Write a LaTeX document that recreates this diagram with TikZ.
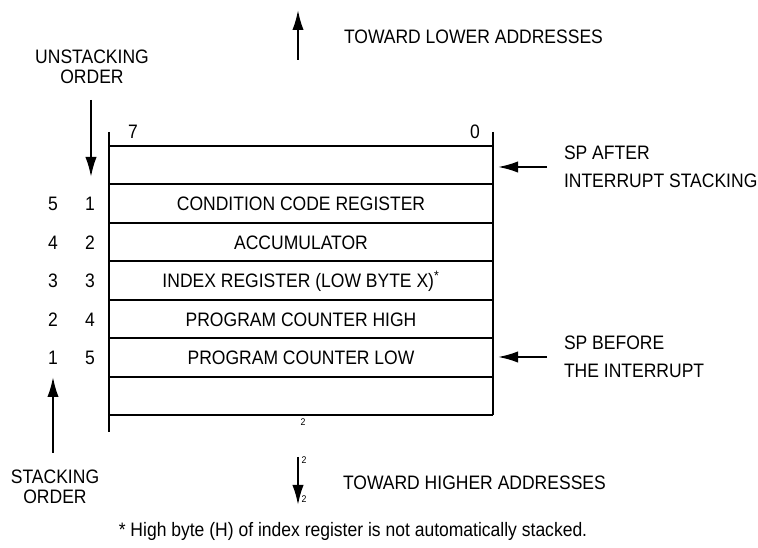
\documentclass[tikz,border=0pt]{standalone}
\usepackage{fontspec}
\setmainfont{Liberation Sans}[FakeStretch=0.9]
\usetikzlibrary{arrows.meta}

\begin{document}
\begin{tikzpicture}[x=0.75pt,y=-0.75pt,
    font=\fontsize{14.6}{15.4}\selectfont,
    line width=1.5pt,
    reg/.style={inner sep=0pt,text height=10.5pt,text depth=0pt},
    note/.style={inner sep=0pt,align=left,anchor=west,font=\fontsize{14.6}{20.6}\selectfont},
    tiny/.style={inner sep=0pt,font=\fontsize{7.3}{8}\selectfont},
    ptr/.style={-{Latex[length=15pt,width=8.5pt]}}]

\useasboundingbox (0,0) rectangle (758,548);

\coordinate (tl) at (109,132);
\coordinate (bl) at (109,432);
\coordinate (tr) at (493,132);
\coordinate (br) at (493,415.5);

\draw (tl) -- (bl);
\draw (tr) -- (br);

\foreach \i in {0,...,7}
    \draw (109,146+38.5*\i) -- (493,146+38.5*\i);

\node [reg] (7) at (133,131.5) {7};
\node [reg] (0) at (475,131.5) {0};

\foreach \t [count=\i] in {CONDITION CODE REGISTER, ACCUMULATOR,
        {INDEX REGISTER (LOW BYTE X)\textsuperscript{*}},
        PROGRAM COUNTER HIGH, PROGRAM COUNTER LOW}
    \node [reg] (r\i) at (301,165.25+38.5*\i) {\t};

\foreach \i in {1,...,5}{
    \pgfmathtruncatemacro\j{6-\i}
    \node [reg] (s\i) at (53,165.25+38.5*\i) {\j};
    \node [reg] (u\i) at (90,165.25+38.5*\i) {\i};
}

% order arrows
\node [inner sep=0pt,align=center] (unstack) at (92,67) {UNSTACKING\\ORDER};
\coordinate (u0) at (91,100);
\coordinate (u9) at (91,177);
\draw [ptr] (u0) -- (u9);

\node [inner sep=0pt,align=center] (stack) at (55,487) {STACKING\\ORDER};
\coordinate (s0) at (53,453);
\coordinate (s9) at (53,377);
\draw [ptr] (s0) -- (s9);

% stack pointer
\node [note] (spa) at (563,167) {SP AFTER\\INTERRUPT STACKING};
\coordinate (spa0) at (547,167);
\coordinate (spa9) at (498,167);
\draw [ptr] (spa0) -- (spa9);

\node [note] (spb) at (563,357) {SP BEFORE\\THE INTERRUPT};
\coordinate (spb0) at (547,357);
\coordinate (spb9) at (498,357);
\draw [ptr] (spb0) -- (spb9);

% addresses
\coordinate (lo0) at (298,60);
\coordinate (lo9) at (298,10);
\draw [ptr] (lo0) -- (lo9);
\node [reg,anchor=west] (lower) at (343,37) {TOWARD LOWER ADDRESSES};

\coordinate (hi0) at (298,457);
\coordinate (hi9) at (298,505);
\draw [ptr] (hi0) -- (hi9);
\node [reg,anchor=west] (higher) at (342,483) {TOWARD HIGHER ADDRESSES};

\node [tiny] (two1) at (303,422) {2};
\node [tiny] (two2) at (304,460) {2};
\node [tiny] (two3) at (304,499) {2};

\node [reg] (foot) at (353,530) {* High byte (H) of index register is not automatically stacked.};

\end{tikzpicture}
\end{document}
